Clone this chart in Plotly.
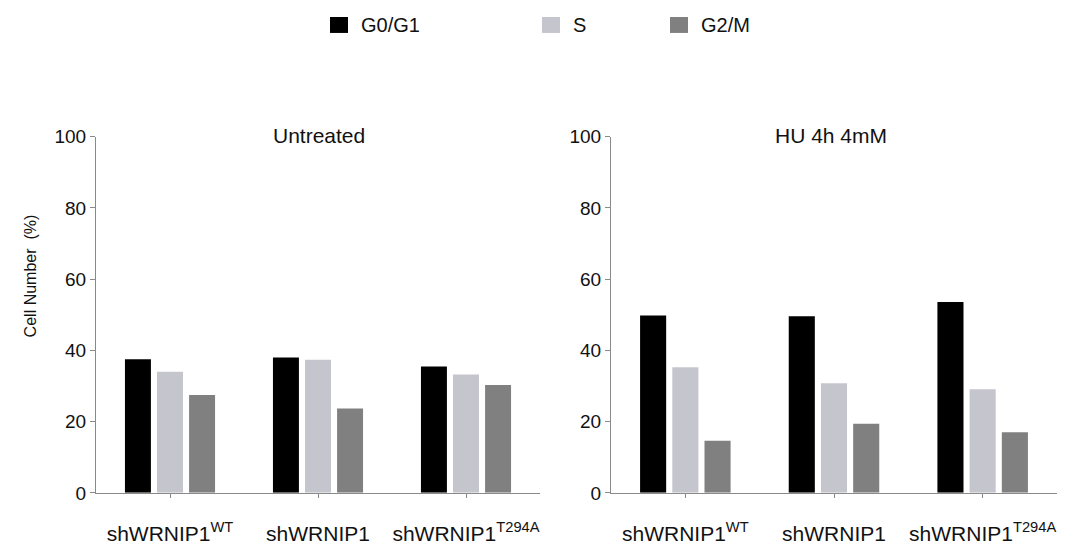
import plotly.graph_objects as go

categories = ["shWRNIP1<sup>WT</sup>", "shWRNIP1", "shWRNIP1<sup>T294A</sup>"]
phases = ["G0/G1", "S", "G2/M"]
colors = ["#000000", "#c5c5cd", "#808080"]

untreated_g0g1 = [37.5, 38.0, 35.5]
untreated_s = [34.0, 37.4, 33.2]
untreated_g2m = [27.5, 23.7, 30.3]

hu_g0g1 = [49.8, 49.6, 53.6]
hu_s = [35.3, 30.8, 29.1]
hu_g2m = [14.6, 19.4, 17.0]

panel_titles = ["Untreated", "HU 4h 4mM"]
y_ticks = [0, 20, 40, 60, 80, 100]

W, H = 1065, 549
FONT = "Liberation Sans, Arial, sans-serif"

fig = go.Figure()

panels = [
    ("x", "y", [untreated_g0g1, untreated_s, untreated_g2m]),
    ("x2", "y2", [hu_g0g1, hu_s, hu_g2m]),
]
for xa, ya, series in panels:
    for name, vals, col in zip(phases, series, colors):
        fig.add_trace(go.Bar(
            x=list(range(len(categories))), y=vals, name=name,
            marker=dict(color=col, line=dict(width=0)),
            xaxis=xa, yaxis=ya, showlegend=False,
        ))


def px_x(p):
    return p / W


def px_y(p):
    # target screen row -> paper fraction (compensates the vertical
    # offset/compression observed in the rendered page)
    s = (p - 10.0) / 0.964
    return (H - s) / H


axis_color = "#8a8a8a"
xcommon = dict(
    range=[-0.5, 2.5], tickmode="array", tickvals=list(range(len(categories))),
    ticktext=categories, showline=True, linecolor=axis_color, linewidth=1,
    ticks="outside", ticklen=4, tickcolor=axis_color, showgrid=False,
    zeroline=False, tickfont=dict(size=21, color="#111111", family=FONT),
    ticklabelstandoff=18, fixedrange=True,
)
ycommon = dict(
    range=[0, 100], tickmode="array", tickvals=y_ticks, showline=True,
    linecolor=axis_color, linewidth=1, ticks="outside", ticklen=5,
    tickcolor=axis_color, showgrid=False, zeroline=False,
    tickfont=dict(size=19, color="#111111", family=FONT), fixedrange=True,
)

y_dom = [px_y(494), px_y(137)]
fig.update_layout(
    width=W, height=H,
    margin=dict(l=0, r=0, t=0, b=0),
    plot_bgcolor="white", paper_bgcolor="white",
    barmode="group", bargap=0.35, bargroupgap=0.19,
    font=dict(family=FONT, color="#111111"),
    xaxis=dict(domain=[px_x(96), px_x(540)], anchor="y", **xcommon),
    yaxis=dict(domain=y_dom, anchor="x", **ycommon),
    xaxis2=dict(domain=[px_x(611), px_x(1057)], anchor="y2", **xcommon),
    yaxis2=dict(domain=y_dom, anchor="x2", **ycommon),
    showlegend=False,
)

annotations = []
for title, cx in zip(panel_titles, [319, 831]):
    annotations.append(dict(
        text=title, x=px_x(cx), y=px_y(136), xref="paper", yref="paper",
        xanchor="center", yanchor="middle", showarrow=False,
        font=dict(size=21, color="#111111", family=FONT),
    ))
annotations.append(dict(
    text="Cell Number  (%)", x=px_x(30), y=px_y(277), xref="paper", yref="paper",
    xanchor="center", yanchor="middle", showarrow=False, textangle=-90,
    font=dict(size=16, color="#111111", family=FONT),
))

# custom legend
legend_x = [330, 542, 670]
shapes = []
for name, col, lx in zip(phases, colors, legend_x):
    shapes.append(dict(
        type="rect", xref="paper", yref="paper",
        x0=px_x(lx), x1=px_x(lx + 18), y0=px_y(33), y1=px_y(17),
        fillcolor=col, line=dict(width=0),
    ))
    annotations.append(dict(
        text=name, x=px_x(lx + 29), y=px_y(25), xref="paper", yref="paper",
        xanchor="left", yanchor="middle", showarrow=False,
        font=dict(size=20, color="#111111", family=FONT),
    ))

fig.update_layout(annotations=annotations, shapes=shapes)

fig.write_html("out.html", config={"displayModeBar": False})
